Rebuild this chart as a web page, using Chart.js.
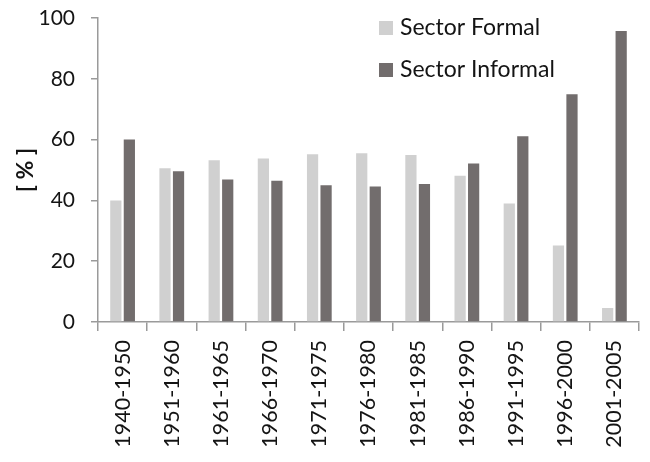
<!DOCTYPE html>
<html>
<head>
<meta charset="utf-8">
<script src="https://cdn.jsdelivr.net/npm/chart.js@4"></script>
<style>
html,body{margin:0;padding:0;background:#fff;}
#wrap{width:650px;height:462px;}
</style>
</head>
<body>
<div id="wrap"><canvas id="c" width="650" height="462"></canvas></div>
<script>
const categories = ["1940-1950","1951-1960","1961-1965","1966-1970","1971-1975","1976-1980","1981-1985","1986-1990","1991-1995","1996-2000","2001-2005"];
const formal = [40.0, 50.6, 53.2, 53.8, 55.2, 55.5, 54.9, 48.1, 39.0, 25.2, 4.6];
const informal = [60.0, 49.6, 46.9, 46.5, 45.0, 44.6, 45.4, 52.1, 61.1, 74.9, 95.7];
const seriesNames = ["Sector Formal", "Sector Informal"];
const yTicks = [0, 20, 40, 60, 80, 100];
const yTitle = "[ % ]";

const FONT = "Lato, 'Open Sans', sans-serif";
const TXT = "#141414";
const AXIS = "#9a9a9a";
const colors = ["#d0d0d0", "#726d6d"];

const legendPlugin = {
  id: 'innerLegend',
  afterDraw(chart) {
    const ctx = chart.ctx;
    ctx.save();
    ctx.font = "23px " + FONT;
    ctx.textBaseline = "middle";
    ctx.textAlign = "left";
    chart.data.datasets.forEach((ds, i) => {
      const y = 28 + i * 42;
      ctx.fillStyle = ds.backgroundColor;
      ctx.fillRect(379, y - 7, 14, 14);
      ctx.fillStyle = TXT;
      ctx.fillText(ds.label, 400, y);
    });
    ctx.restore();
  }
};

new Chart(document.getElementById('c'), {
  type: 'bar',
  data: {
    labels: categories,
    datasets: [
      { label: seriesNames[0], data: formal, backgroundColor: colors[0] },
      { label: seriesNames[1], data: informal, backgroundColor: colors[1] }
    ]
  },
  options: {
    responsive: false,
    animation: false,
    devicePixelRatio: 1,
    layout: { padding: { left: 0, right: 11, top: 18, bottom: 0 } },
    plugins: { legend: { display: false }, tooltip: { enabled: false } },
    datasets: { bar: { categoryPercentage: 0.55, barPercentage: 0.83 } },
    scales: {
      x: {
        offset: true,
        grid: { display: true, drawOnChartArea: false, offset: true, color: AXIS, lineWidth: 1.5, tickLength: 9 },
        border: { display: true, color: AXIS, width: 1.5 },
        ticks: { color: TXT, font: { family: FONT, size: 21.5 }, minRotation: 90, maxRotation: 90, padding: 9, autoSkip: false },
        afterFit(scale) { scale.height = 140; scale.paddingTop = 0; scale.paddingBottom = 0; }
      },
      y: {
        min: 0, max: 100,
        afterBuildTicks(scale) { scale.ticks = yTicks.map(v => ({ value: v })); },
        grid: { display: true, drawOnChartArea: false, color: AXIS, lineWidth: 1.5, tickLength: 7 },
        border: { display: true, color: AXIS, width: 1.5 },
        ticks: { color: TXT, font: { family: FONT, size: 21 }, padding: 16 },
        title: { display: true, text: yTitle, color: TXT, font: { family: FONT, size: 23, weight: 'bold' }, padding: { top: 12, bottom: 0 } },
        afterFit(scale) { scale.width = 98; scale.paddingTop = 0; scale.paddingBottom = 0; }
      }
    }
  },
  plugins: [legendPlugin]
});
</script>
</body>
</html>
